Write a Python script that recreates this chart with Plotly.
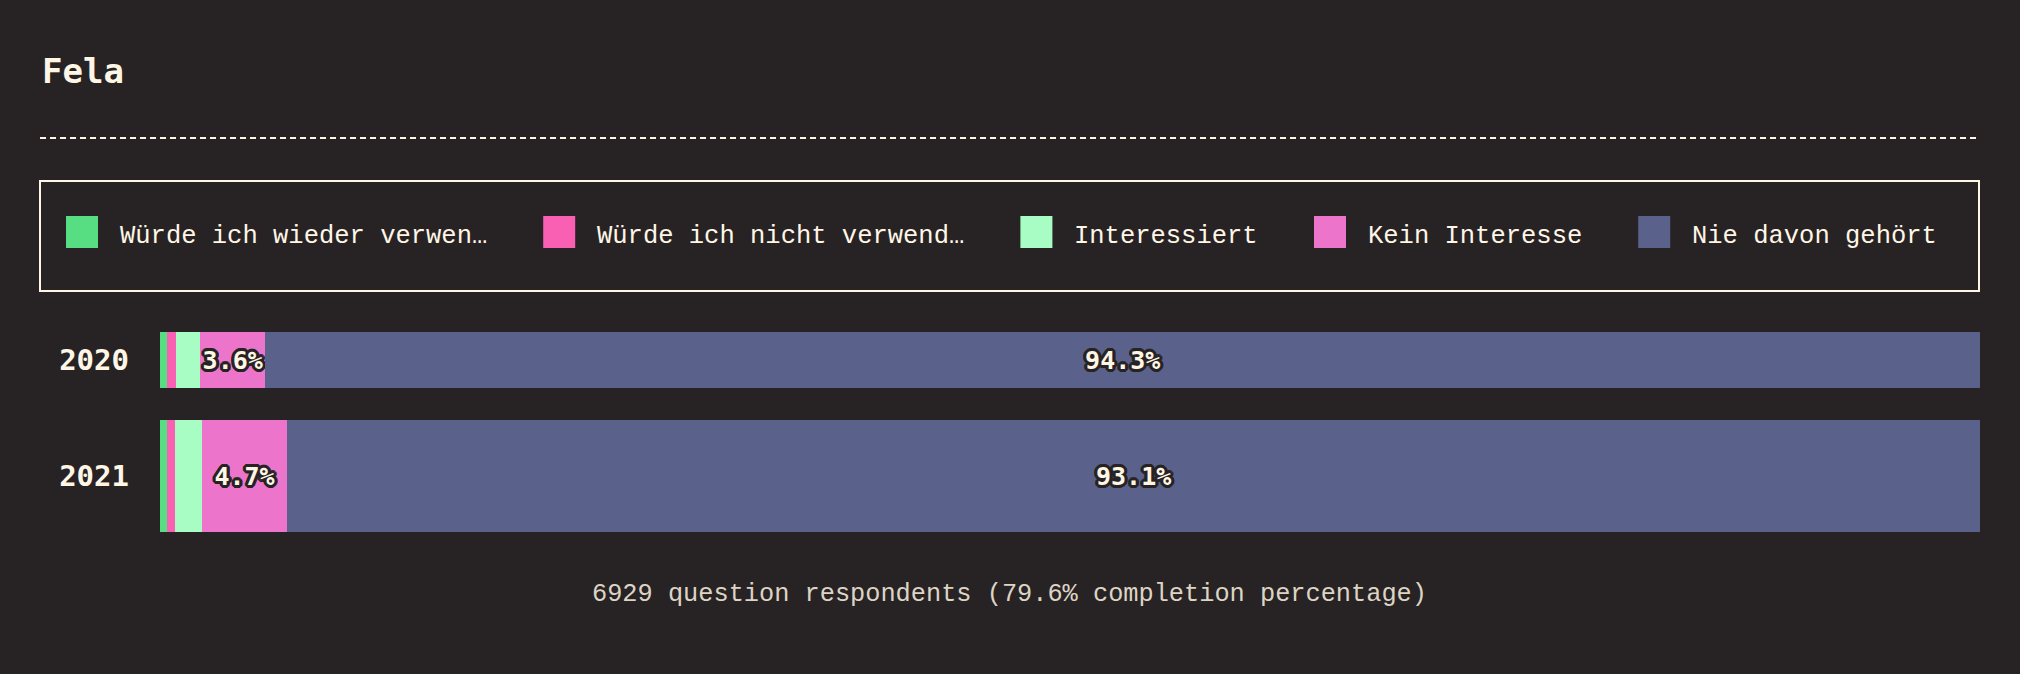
import plotly.graph_objects as go

# ---------------- data ----------------
years = ["2020", "2021"]
series_names = [
    "Würde ich wieder verwenden",
    "Würde ich nicht verwenden",
    "Interessiert",
    "Kein Interesse",
    "Nie davon gehört",
]
series_colors = ["#58de82", "#f95fb3", "#a7fdc4", "#ec75cb", "#5a618b"]
values_wieder = [0.4, 0.4]
values_nicht = [0.5, 0.4]
values_interessiert = [1.3, 1.5]
values_kein = [3.6, 4.7]
values_nie = [94.3, 93.1]
series_values = [values_wieder, values_nicht, values_interessiert, values_kein, values_nie]

title_text = "Fela"
footer_text = "6929 question respondents (79.6% completion percentage)"

# ---------------- style ----------------
W, H = 2020, 674
BG = "#272324"
CREAM = "#fff6e6"
MUTED = "#ddd4c4"
FONT = "Liberation Mono, DejaVu Sans Mono, monospace"
BOLD_FONT = "DejaVu Sans Mono, Liberation Mono, monospace"

plot_left, plot_right = 160, 1980
plot_top, plot_bottom = 302, 534
bar_thickness = [0.4828, 0.9655]  # relative to category spacing

def px_x(px):
    return (px - plot_left) / (plot_right - plot_left)

def px_y(py):
    return (plot_bottom - py) / (plot_bottom - plot_top)

totals = [sum(s[i] for s in series_values) for i in range(len(years))]
xmax = max(totals)

fig = go.Figure()
outline = ", ".join(
    f"{dx}px {dy}px 0 {BG}"
    for dx, dy in [(-2, -2), (2, -2), (-2, 2), (2, 2), (0, 3), (0, -3), (3, 0), (-3, 0),
                   (-1, 3), (1, 3), (-1, -3), (1, -3), (3, 1), (3, -1), (-3, 1), (-3, -1)]
)
for name, color, vals in zip(series_names, series_colors, series_values):
    fig.add_trace(go.Bar(
        y=years, x=vals, name=name, orientation="h",
        width=bar_thickness,
        marker=dict(color=color, line=dict(width=0)),
        text=[f"{v}%" if v >= 3 else "" for v in vals],
        textposition="inside",
        insidetextanchor="middle",
        textangle=0,
        textfont=dict(family=BOLD_FONT, size=25, color=CREAM, weight="bold", shadow=outline),
        hoverinfo="skip",
        showlegend=False,
        cliponaxis=False,
    ))

shapes = []
annotations = []

# title
annotations.append(dict(
    x=px_x(40), y=px_y(71), xref="paper", yref="paper",
    xanchor="left", yanchor="middle", showarrow=False,
    text=f"<b>{title_text}</b>",
    font=dict(family=BOLD_FONT, size=34, color=CREAM),
))
# dashed separator
shapes.append(dict(
    type="line", xref="paper", yref="paper",
    x0=px_x(40), x1=px_x(1980), y0=px_y(138), y1=px_y(138),
    line=dict(color=CREAM, width=2, dash="6px,4px"),
))
# legend box
shapes.append(dict(
    type="rect", xref="paper", yref="paper",
    x0=px_x(40), x1=px_x(1979), y0=px_y(181), y1=px_y(291),
    line=dict(color=CREAM, width=2), fillcolor="rgba(0,0,0,0)",
))
# legend items
char_w = 15.3
x = 66
for name, color in zip(series_names, series_colors):
    label = name if len(name) <= 24 else name[:23] + "…"
    shapes.append(dict(
        type="rect", xref="paper", yref="paper",
        x0=px_x(x), x1=px_x(x + 32), y0=px_y(216), y1=px_y(248),
        line=dict(width=0), fillcolor=color,
    ))
    annotations.append(dict(
        x=px_x(x + 52), y=px_y(236), xref="paper", yref="paper",
        xanchor="left", yanchor="middle", showarrow=False,
        text=label, font=dict(family=FONT, size=25.5, color=CREAM),
    ))
    x += 32 + 20 + len(label) * char_w + 58

# footer
annotations.append(dict(
    x=px_x(1009), y=px_y(594), xref="paper", yref="paper",
    xanchor="center", yanchor="middle", showarrow=False,
    text=footer_text, font=dict(family=FONT, size=25.3, color=MUTED),
))

fig.update_layout(
    width=W, height=H,
    paper_bgcolor=BG, plot_bgcolor=BG,
    barmode="stack",
    margin=dict(l=plot_left, r=W - plot_right, t=plot_top, b=H - plot_bottom, pad=0),
    uniformtext=dict(minsize=25, mode="show"),
    xaxis=dict(range=[0, xmax], visible=False, fixedrange=True),
    yaxis=dict(
        type="category", categoryorder="array", categoryarray=years,
        range=[1.5, -0.5], showgrid=False, zeroline=False, showline=False,
        ticks="", ticklabelstandoff=30,
        tickfont=dict(family=BOLD_FONT, size=29, color=CREAM, weight="bold"),
        fixedrange=True,
    ),
    shapes=shapes,
    annotations=annotations,
    font=dict(family=FONT, color=CREAM),
)

fig.write_html("out.html")
